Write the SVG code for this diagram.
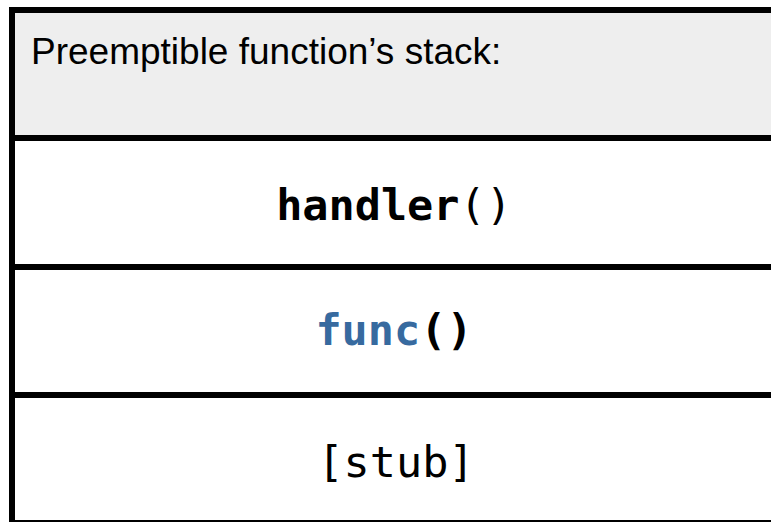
<svg xmlns="http://www.w3.org/2000/svg" width="771" height="522" viewBox="0 0 771 522">
<style>
.line{stroke:#000;stroke-width:6;fill:none}
.mono{font-family:"DejaVu Sans Mono",monospace;font-size:43.5px;text-anchor:middle;fill:#000}
.hdr{font-family:"Liberation Sans",Arial,sans-serif;font-size:37px;fill:#000}
</style>
<rect x="0" y="0" width="771" height="522" fill="#fff"/>
<g id="header">
<rect x="12" y="10" width="759" height="128" fill="#eeeeee"/>
<text class="hdr" x="31" y="64">Preemptible function’s stack:</text>
</g>
<g id="handler">
<rect x="12" y="138" width="759" height="129" fill="#fff"/>
<text class="mono" x="394" y="220"><tspan font-weight="bold">handler</tspan>()</text>
</g>
<g id="func">
<rect x="12" y="267" width="759" height="128" fill="#fff"/>
<text class="mono" x="394" y="345" font-weight="bold"><tspan fill="#376a9f">func</tspan>()</text>
</g>
<g id="stub">
<rect x="12" y="395" width="759" height="127" fill="#fff"/>
<text class="mono" x="396" y="477">[stub]</text>
</g>
<g id="connectors">
<line class="line" x1="9" y1="10" x2="771" y2="10"/>
<line class="line" x1="9" y1="138" x2="771" y2="138"/>
<line class="line" x1="9" y1="267" x2="771" y2="267"/>
<line class="line" x1="9" y1="395" x2="771" y2="395"/>
<line class="line" x1="9" y1="523" x2="771" y2="523"/>
<line class="line" x1="12" y1="7" x2="12" y2="522"/>
</g>
</svg>
